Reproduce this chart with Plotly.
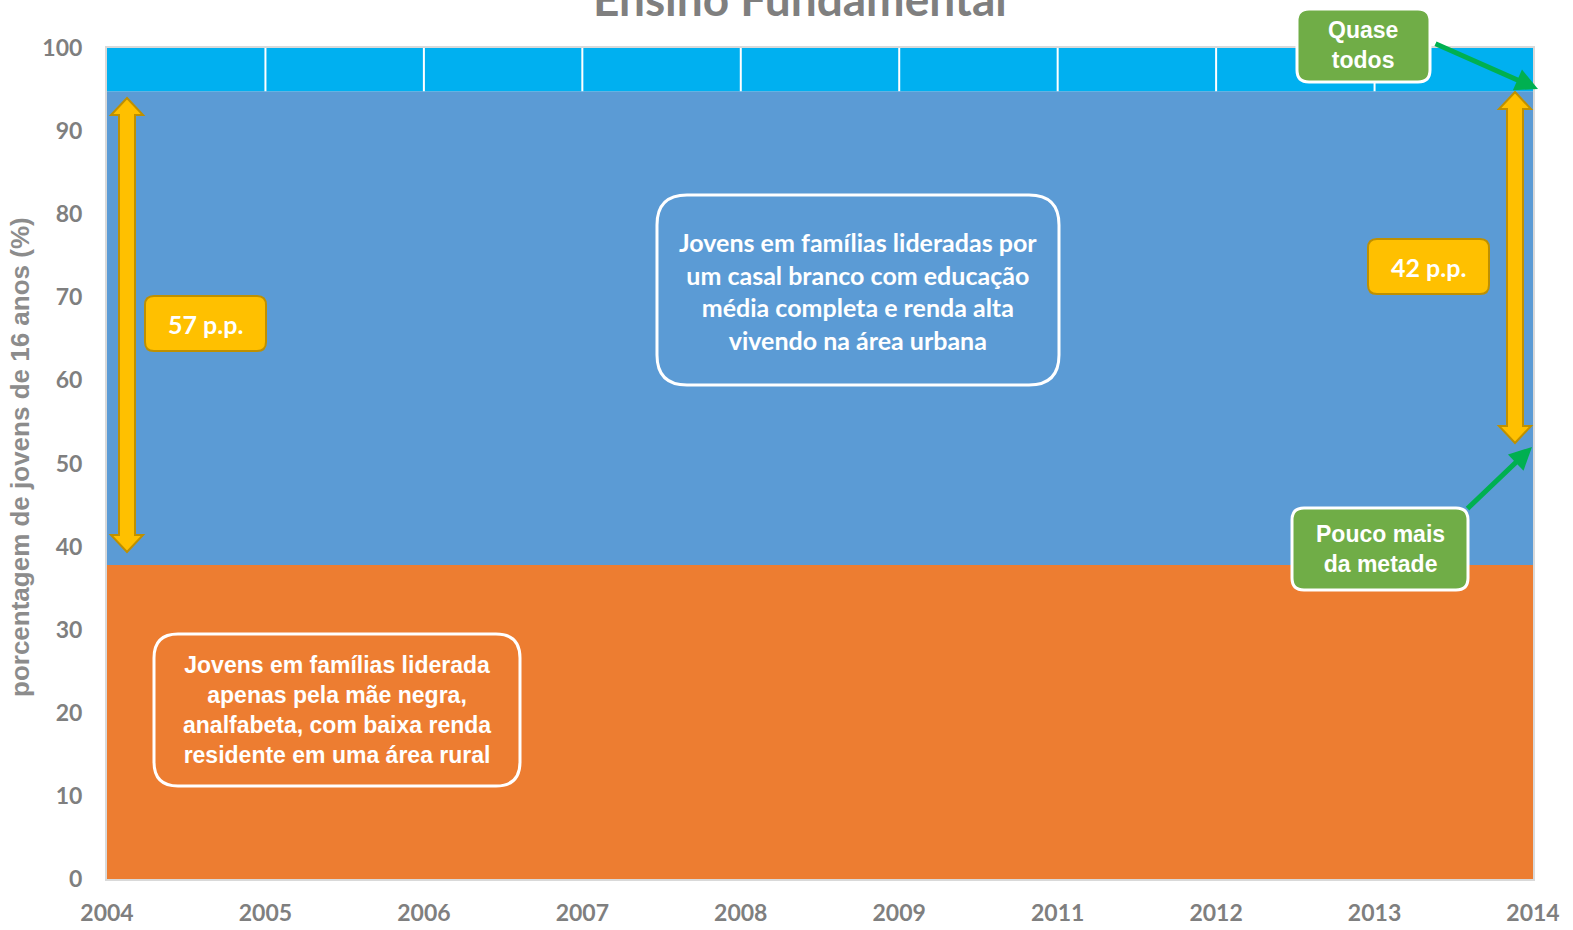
import plotly.graph_objects as go

# data
years = ["2004", "2005", "2006", "2007", "2008", "2009", "2011", "2012", "2013", "2014"]
mae_negra_rural = [37.8, 37.8, 37.8, 37.8, 37.8, 37.8, 37.8, 37.8, 37.8, 37.8]
casal_branco_urbano = [57.0, 57.0, 57.0, 57.0, 57.0, 57.0, 57.0, 57.0, 57.0, 57.0]
restante = [5.2, 5.2, 5.2, 5.2, 5.2, 5.2, 5.2, 5.2, 5.2, 5.2]

GRAY = "#7f7f7f"
ORANGE = "#ED7D31"
BLUE = "#5B9BD5"
CYAN = "#00B0F0"
YELLOW = "#FFC000"
YELLOW_LINE = "#BF9000"
GREEN = "#70AD47"
ARROW_GREEN = "#00B050"

W, H = 1573, 930
L, R, T, B = 107, 40, 48, 51
PW, PH = W - L - R, H - T - B


def px(x):
    return (x - L) / PW


def py(y):
    return (H - B - y) / PH


def pt(x, y):
    return f"{px(x):.5f},{py(y):.5f}"


def rbox(x0, y0, x1, y1, r=14):
    return (f"M {pt(x0 + r, y0)} L {pt(x1 - r, y0)} Q {pt(x1, y0)} {pt(x1, y0 + r)} "
            f"L {pt(x1, y1 - r)} Q {pt(x1, y1)} {pt(x1 - r, y1)} "
            f"L {pt(x0 + r, y1)} Q {pt(x0, y1)} {pt(x0, y1 - r)} "
            f"L {pt(x0, y0 + r)} Q {pt(x0, y0)} {pt(x0 + r, y0)} Z")


def double_arrow(xc, ytop, ybot, sw=8, hw=16, hh=17):
    p = [(xc, ytop), (xc + hw, ytop + hh), (xc + sw, ytop + hh), (xc + sw, ybot - hh),
         (xc + hw, ybot - hh), (xc, ybot), (xc - hw, ybot - hh), (xc - sw, ybot - hh),
         (xc - sw, ytop + hh), (xc - hw, ytop + hh)]
    return "M " + " L ".join(pt(a, b) for a, b in p) + " Z"


fig = go.Figure()
for vals, col in [(mae_negra_rural, ORANGE), (casal_branco_urbano, BLUE), (restante, CYAN)]:
    fig.add_trace(go.Scatter(x=years, y=vals, stackgroup="one", mode="none",
                             fillcolor=col, line=dict(width=0), hoverinfo="skip"))

shapes = []
# white gridlines seen only in the top band
for i in range(1, len(years) - 1):
    top_blue = mae_negra_rural[i] + casal_branco_urbano[i]
    shapes.append(dict(type="line", xref="x", yref="y", x0=i, x1=i, y0=top_blue, y1=100,
                       line=dict(color="white", width=2)))

# text boxes
shapes.append(dict(type="path", xref="paper", yref="paper", path=rbox(657, 195, 1059, 385, 30),
                   line=dict(color="white", width=3)))
shapes.append(dict(type="path", xref="paper", yref="paper", path=rbox(154, 634, 520, 786, 24),
                   line=dict(color="white", width=3)))
for x0, y0, x1, y1 in [(145, 296, 266, 351), (1368, 239, 1489, 294)]:
    shapes.append(dict(type="path", xref="paper", yref="paper", path=rbox(x0, y0, x1, y1, 9),
                       fillcolor=YELLOW, line=dict(color=YELLOW_LINE, width=2)))
for x0, y0, x1, y1 in [(1297, 9, 1430, 82), (1292, 508, 1468, 590)]:
    shapes.append(dict(type="path", xref="paper", yref="paper", path=rbox(x0, y0, x1, y1, 12),
                       fillcolor=GREEN, line=dict(color="white", width=3)))

# yellow double arrows
shapes.append(dict(type="path", xref="paper", yref="paper", path=double_arrow(127, 98, 552),
                   fillcolor=YELLOW, line=dict(color=YELLOW_LINE, width=2)))
shapes.append(dict(type="path", xref="paper", yref="paper", path=double_arrow(1515, 92, 443),
                   fillcolor=YELLOW, line=dict(color=YELLOW_LINE, width=2)))

annotations = []


def note(text, x, y, size, family, color="white"):
    annotations.append(dict(text=text, xref="paper", yref="paper", x=px(x), y=py(y),
                            xanchor="center", yanchor="middle",
                            showarrow=False, align="center",
                            font=dict(family=family, size=size, color=color)))


note("<b>Jovens em famílias lideradas por<br>um casal branco com educação<br>"
     "média completa e renda alta<br>vivendo na área urbana</b>", 858, 291, 25, "Lato")
note("<b>Jovens em famílias liderada<br>apenas pela mãe negra,<br>"
     "analfabeta, com baixa renda<br>residente em uma área rural</b>", 337, 710, 23, "Liberation Sans")
note("<b>57 p.p.</b>", 205, 324, 25, "Lato")
note("<b>42 p.p.</b>", 1428, 267, 25, "Lato")
note("<b>Quase<br>todos</b>", 1363, 45, 23, "Liberation Sans")
note("<b>Pouco mais<br>da metade</b>", 1380, 549, 23, "Liberation Sans")

# green arrows
for (tx, ty), (sx, sy) in [((1538, 89), (1434, 43)), ((1532, 447), (1466, 510))]:
    annotations.append(dict(text="", xref="paper", yref="paper", x=px(tx), y=py(ty),
                            ax=sx - tx, ay=sy - ty, showarrow=True, arrowhead=2,
                            arrowsize=0.9, arrowwidth=5, arrowcolor=ARROW_GREEN, standoff=0))

# titles
annotations.append(dict(text="<b>Ensino Fundamental</b>", xref="paper", yref="paper",
                        x=px(800), y=py(28), xanchor="center", yanchor="bottom", showarrow=False,
                        font=dict(family="Lato", size=46, color=GRAY)))
annotations.append(dict(text="<b>porcentagem de jovens de 16 anos (%)</b>", xref="paper",
                        yref="paper", x=px(20), y=py(457), xanchor="center", yanchor="middle",
                        textangle=-90, showarrow=False,
                        font=dict(family="Liberation Sans", size=26, color="#8c8c8c")))

tick_font = dict(family="Lato", size=23, color=GRAY, weight="bold")
fig.update_layout(
    width=W, height=H,
    margin=dict(l=L, r=R, t=T, b=B),
    paper_bgcolor="white", plot_bgcolor="white",
    showlegend=False,
    shapes=shapes, annotations=annotations,
    xaxis=dict(type="category", range=[0, len(years) - 1], showgrid=False, zeroline=False,
               showline=True, linecolor="#d9d9d9", linewidth=2, mirror=True, automargin=False,
               ticks="", ticklabelstandoff=12, tickfont=tick_font),
    yaxis=dict(range=[0, 100], tickvals=[0, 10, 20, 30, 40, 50, 60, 70, 80, 90, 100],
               showgrid=False, zeroline=False, showline=True, linecolor="#d9d9d9",
               linewidth=2, mirror=True, automargin=False, ticks="", ticklabelstandoff=18,
               tickfont=tick_font),
)

fig.write_html("out.html", config={"displayModeBar": False},
               post_script="document.body.style.margin='0';")
